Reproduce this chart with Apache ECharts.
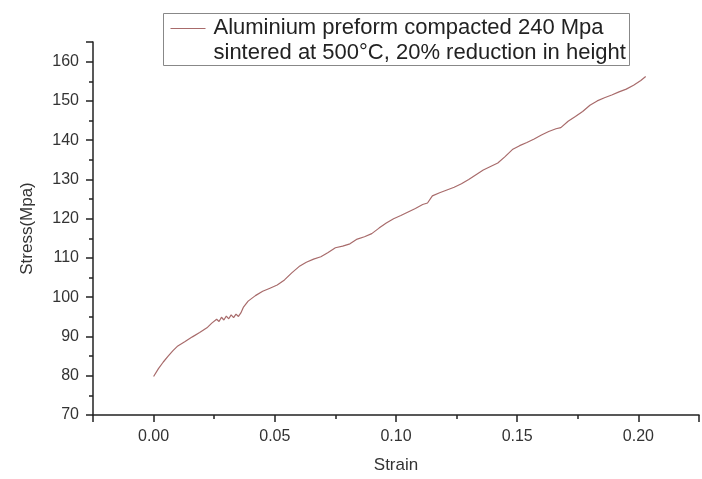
<!DOCTYPE html>
<html>
<head>
<meta charset="utf-8">
<script src="https://cdn.jsdelivr.net/npm/echarts@6/dist/echarts.min.js"></script>
<style>
  html, body { margin: 0; padding: 0; background: #fff; }
  #chart { width: 702px; height: 479px; }
</style>
</head>
<body>
<div id="chart"></div>
<script>
// strain / stress
var strain = [0, 0.002, 0.004, 0.006, 0.008, 0.010, 0.013, 0.016, 0.019, 0.022, 0.024,
  0.026, 0.027, 0.028, 0.029, 0.030, 0.031, 0.032, 0.033, 0.034, 0.035, 0.036,
  0.037, 0.039, 0.042, 0.045, 0.048, 0.051, 0.054, 0.057, 0.060, 0.063, 0.066, 0.069,
  0.072, 0.075, 0.078, 0.081, 0.084, 0.087, 0.090, 0.093, 0.096, 0.099, 0.102, 0.105,
  0.108, 0.111, 0.113, 0.115, 0.118, 0.121, 0.124, 0.127, 0.130, 0.133, 0.136, 0.139,
  0.142, 0.145, 0.148, 0.151, 0.154, 0.157, 0.160, 0.163, 0.166, 0.168, 0.171, 0.174,
  0.177, 0.180, 0.183, 0.186, 0.189, 0.192, 0.195, 0.198, 0.201, 0.203];
var stress = [79.8, 81.8, 83.5, 85.0, 86.4, 87.6, 88.7, 89.9, 91.0, 92.2, 93.4,
  94.4, 93.8, 94.9, 94.2, 95.2, 94.5, 95.5, 94.8, 95.7, 95.1, 96.0,
  97.4, 99.0, 100.4, 101.5, 102.3, 103.1, 104.4, 106.2, 107.8, 108.9, 109.7, 110.3,
  111.4, 112.6, 113.0, 113.6, 114.8, 115.4, 116.2, 117.6, 118.9, 120.0, 120.8, 121.7,
  122.6, 123.6, 124.0, 125.8, 126.6, 127.3, 128.0, 128.9, 130.0, 131.2, 132.4, 133.3,
  134.2, 135.8, 137.6, 138.6, 139.4, 140.3, 141.3, 142.2, 142.9, 143.2, 144.8, 146.0,
  147.3, 148.9, 150.0, 150.8, 151.5, 152.3, 153.0, 154.0, 155.2, 156.2];
var legendLines = ['Aluminium preform compacted 240 Mpa', 'sintered at 500°C, 20% reduction in height'];

var lineColor = '#a86b6b';
var fontFam = '"Liberation Sans", Arial, sans-serif';

var points = [];
for (var i = 0; i < strain.length; i++) {
  points.push([strain[i], stress[i]]);
}

var chart = echarts.init(document.getElementById('chart'));
var axisLineStyle = { color: '#222', width: 1.5 };

var option = {
  backgroundColor: '#fff',
  animation: false,
  grid: { left: 93, top: 42, bottom: 56, right: -7, containLabel: false },
  xAxis: [{
    type: 'value',
    min: -0.025,
    max: 0.225,
    minInterval: 0.05,
    maxInterval: 0.05,
    name: 'Strain',
    nameLocation: 'middle',
    nameGap: 42,
    nameTextStyle: { fontFamily: fontFam, fontSize: 17, color: '#333' },
    axisLine: { onZero: false, lineStyle: axisLineStyle },
    axisTick: { length: 7, lineStyle: { color: '#222', width: 1.5 } },
    axisLabel: {
      margin: 14,
      fontFamily: fontFam, fontSize: 16, color: '#333',
      formatter: function (v) {
        var k = Math.round(v / 0.05);
        if (Math.abs(v - k * 0.05) > 1e-6) return '';
        return v.toFixed(2);
      }
    },
    splitLine: { show: false }
  }, {
    // minor ticks
    type: 'value',
    position: 'bottom',
    min: -0.025,
    max: 0.225,
    interval: 0.025,
    axisLine: { show: false, onZero: false },
    axisTick: { length: 4, lineStyle: { color: '#222', width: 1.5 } },
    axisLabel: { show: false },
    splitLine: { show: false }
  }],
  yAxis: [{
    type: 'value',
    min: 70,
    max: 165,
    interval: 10,
    name: 'Stress(Mpa)',
    nameLocation: 'middle',
    nameGap: 57,
    nameTextStyle: { fontFamily: fontFam, fontSize: 17, color: '#333' },
    axisLine: { show: true, onZero: false, lineStyle: axisLineStyle },
    axisTick: { show: true, length: 7, lineStyle: { color: '#222', width: 1.5 } },
    axisLabel: {
      margin: 14,
      fontFamily: fontFam, fontSize: 16, color: '#333',
      formatter: function (v) { return v % 10 === 0 ? String(v) : ''; }
    },
    splitLine: { show: false }
  }, {
    type: 'value',
    position: 'left',
    offset: 0,
    min: 70,
    max: 165,
    interval: 5,
    axisLine: { show: false, onZero: false },
    axisTick: { show: true, length: 4, lineStyle: { color: '#222', width: 1.5 } },
    axisLabel: { show: false },
    splitLine: { show: false }
  }],
  series: [{
    name: legendLines.join(' '),
    type: 'line',
    xAxisIndex: 0,
    yAxisIndex: 0,
    data: points,
    showSymbol: false,
    smooth: false,
    lineStyle: { color: lineColor, width: 1.2 }
  }],
  graphic: [{
    type: 'group',
    left: 163,
    top: 13,
    children: [{
      type: 'rect',
      shape: { x: 0, y: 0, width: 466, height: 52 },
      style: { fill: '#fff', stroke: '#888', lineWidth: 1 }
    }, {
      type: 'line',
      shape: { x1: 7, y1: 15, x2: 42, y2: 15 },
      style: { stroke: lineColor, lineWidth: 1.2 }
    }, {
      type: 'text',
      x: 50,
      y: 2,
      style: {
        text: legendLines.join('\n'),
        font: '22px ' + fontFam,
        lineHeight: 25,
        fill: '#222'
      }
    }]
  }]
};

chart.setOption(option);
</script>
</body>
</html>
